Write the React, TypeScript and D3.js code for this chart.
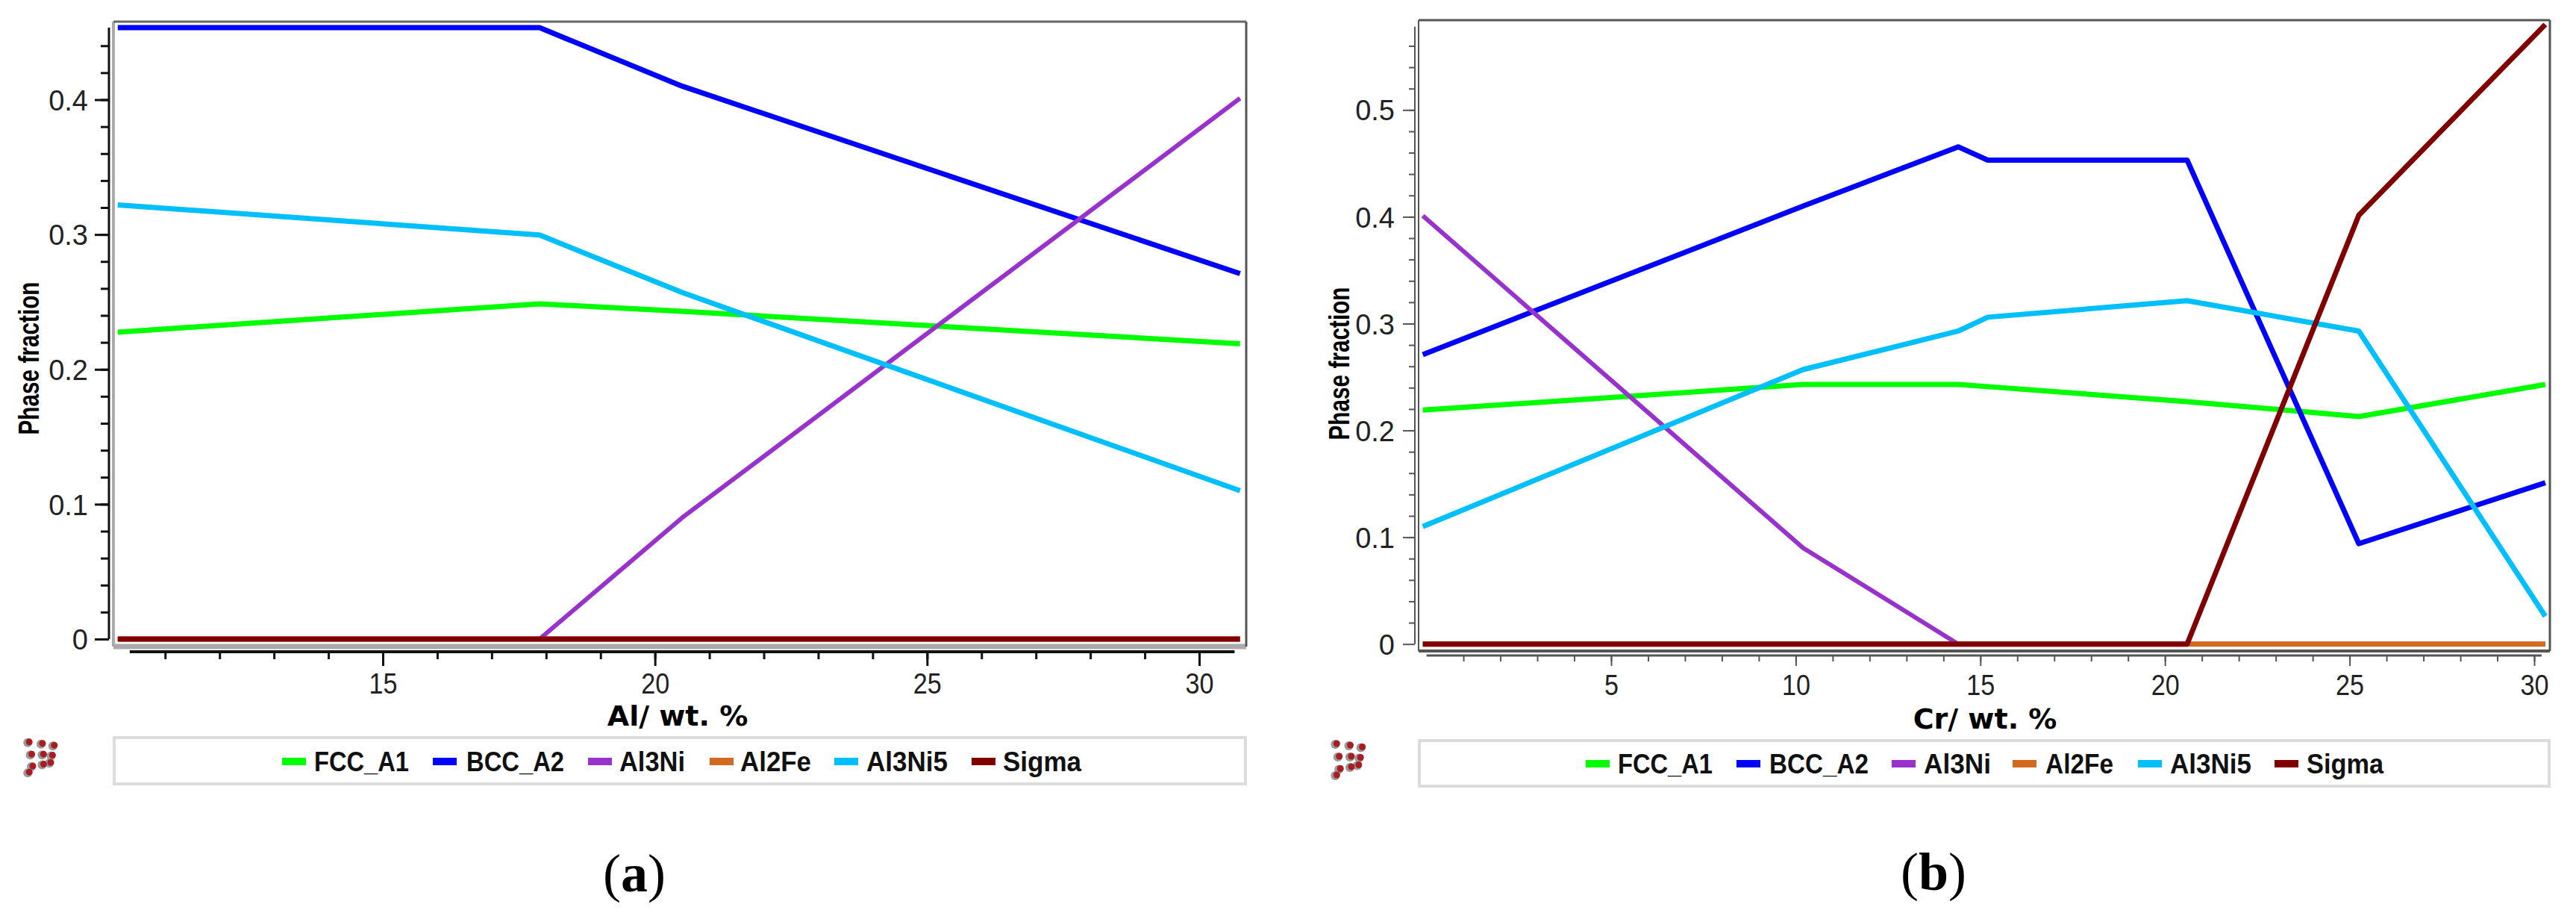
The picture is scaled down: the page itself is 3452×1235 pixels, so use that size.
import * as d3 from "d3";
import { useEffect, useRef } from "react";

const phaseNames = ["FCC_A1", "BCC_A2", "Al3Ni", "Al2Fe", "Al3Ni5", "Sigma"];
const phaseColors = ["#00ff00", "#0000ff", "#9932cc", "#d2691e", "#00bfff", "#800000"];
const phaseWidths = [7, 7, 6, 7, 7, 7];

// panel (a): Al content
const alValues = [10.13, 17.88, 20.5, 30.75];
const alFcc = [0.2276, 0.2486, 0.243, 0.219];
const alBcc = [0.4534, 0.4534, 0.41, 0.271];
const alAl3Ni = [0, 0, 0.09, 0.401];
const alAl2Fe = [0, 0, 0, 0];
const alAl3Ni5 = [0.322, 0.2996, 0.257, 0.11];
const alSigma = [0, 0, 0, 0];

// panel (b): Cr content
const crValues = [-0.1, 10.2, 14.4, 15.2, 20.6, 25.25, 30.3];
const crFcc = [0.219, 0.243, 0.243, 0.241, 0.227, 0.213, 0.243];
const crBcc = [0.271, 0.41, 0.4655, 0.453, 0.453, 0.094, 0.151];
const crAl3Ni = [0.401, 0.09, 0, 0, 0, 0, 0];
const crAl2Fe = [0, 0, 0, 0, 0, 0, 0];
const crAl3Ni5 = [0.11, 0.257, 0.293, 0.306, 0.3215, 0.293, 0.026];
const crSigma = [0, 0, 0, 0, 0, 0.4015, 0.58];

const alXTicks = [15, 20, 25, 30];
const alYTicks = [0, 0.1, 0.2, 0.3, 0.4];
const alXMinor = d3.range(11, 31);
const alYMinor = d3.range(1, 23).map((d) => d * 0.02);

const crXTicks = [5, 10, 15, 20, 25, 30];
const crYTicks = [0, 0.1, 0.2, 0.3, 0.4, 0.5];
const crXMinor = d3.range(1, 31);
const crYMinor = d3.range(1, 29).map((d) => d * 0.02);

const iconDots = [
  [0.15, 0.08], [0.52, 0.12], [0.85, 0.17],
  [0.22, 0.42], [0.55, 0.42], [0.8, 0.45],
  [0.25, 0.75], [0.55, 0.7], [0.75, 0.65],
  [0.15, 0.92],
];

const FONT = "'Liberation Sans', sans-serif";

const panels = [
  {
    xs: alValues,
    series: [alFcc, alBcc, alAl3Ni, alAl2Fe, alAl3Ni5, alSigma],
    xTicks: alXTicks, yTicks: alYTicks, xMinor: alXMinor, yMinor: alYMinor,
    xDomain: [15, 30], xRange: [513, 1607],
    yDomain: [0, 0.4], yRange: [856, 133.5],
    frame: { left: 152, right: 1670, top: 29, bottom: 866 },
    axisX: 146, axisY: 873, axisTop: 0.4534, axisXFrom: 10.35, axisXTo: 30.65,
    axisColor: "#111", axisWidth: 3,
    frameColors: { top: "#666", left: "#aaa", bottom: "#aaa", right: "#555" },
    frameWidths: { top: 3, left: 4, bottom: 7, right: 3 },
    xLabel: "Al/ wt. %", xLabelX: 908, xLabelY: 958, xTickY: 915,
    yLabelX: 38, yLabelY: 480, yTickX: 118,
    xTickLens: [10, 19], yTickLens: [11, 19],
    legendBox: [153, 988, 1669, 1050],
    legendY: 1020,
    swatches: [378, 580, 788, 951, 1118, 1302],
    labelStarts: [421, 625, 830, 992, 1161, 1344],
    labelLens: [127, 131, 88, 95, 109, 105],
    icon: [32, 990, 48, 48],
    caption: "a", captionX: 850, captionY: 1172,
  },
  {
    xs: crValues,
    series: [crFcc, crBcc, crAl3Ni, crAl2Fe, crAl3Ni5, crSigma],
    xTicks: crXTicks, yTicks: crYTicks, xMinor: crXMinor, yMinor: crYMinor,
    xDomain: [5, 30], xRange: [2159, 3396],
    yDomain: [0, 0.5], yRange: [862.7, 147.3],
    frame: { left: 1901, right: 3417, top: 27, bottom: 872 },
    axisX: 1896, axisY: 878, axisTop: 0.578, axisXFrom: 0, axisXTo: 30.2,
    axisColor: "#555", axisWidth: 2,
    frameColors: { top: "#555", left: "#555", bottom: "#555", right: "#555" },
    frameWidths: { top: 3, left: 2, bottom: 4, right: 3 },
    xLabel: "Cr/ wt. %", xLabelX: 2660, xLabelY: 962, xTickY: 917,
    yLabelX: 1794, yLabelY: 487, yTickX: 1869,
    xTickLens: [8, 14], yTickLens: [8, 16],
    legendBox: [1902, 992, 3416, 1053],
    legendY: 1023,
    swatches: [2125, 2327, 2535, 2697, 2865, 3048],
    labelStarts: [2168, 2371, 2578, 2741, 2908, 3091],
    labelLens: [127, 133, 90, 91, 109, 103],
    icon: [1784, 992, 49, 50],
    caption: "b", captionX: 2591, captionY: 1170,
  },
];

function drawPanel(svg, p) {
  const g = svg.append("g");
  const x = d3.scaleLinear().domain(p.xDomain).range(p.xRange);
  const y = d3.scaleLinear().domain(p.yDomain).range(p.yRange);

  // frame
  const f = p.frame;
  const edge = (x1, y1, x2, y2, side) =>
    g.append("line")
      .attr("x1", x1).attr("y1", y1).attr("x2", x2).attr("y2", y2)
      .attr("stroke", p.frameColors[side])
      .attr("stroke-width", p.frameWidths[side]);
  edge(f.left, f.top, f.left, f.bottom, "left");
  edge(f.left, f.bottom, f.right, f.bottom, "bottom");
  edge(f.right, f.top, f.right, f.bottom, "right");
  edge(f.left, f.top, f.right, f.top, "top");

  // lines
  const line = d3.line().x((d) => x(d[0])).y((d) => y(d[1]));
  p.series.forEach((values, i) => {
    g.append("path")
      .attr("d", line(values.map((v, k) => [p.xs[k], v])))
      .attr("fill", "none")
      .attr("stroke", phaseColors[i])
      .attr("stroke-width", phaseWidths[i])
      .attr("stroke-linejoin", "round");
  });

  // axes
  const styleAxis = (sel) => {
    sel.select(".domain").remove();
    sel.selectAll("line").attr("stroke", p.axisColor).attr("stroke-width", p.axisWidth);
    sel.selectAll("text").attr("font-family", FONT).attr("font-size", 38).attr("fill", "#222");
  };

  const xAxisG = g.append("g").attr("transform", `translate(0,${p.axisY})`);
  xAxisG.append("g").call(d3.axisBottom(x).tickValues(p.xMinor).tickSize(p.xTickLens[0]).tickFormat("")).call(styleAxis);
  xAxisG.append("g")
    .call(d3.axisBottom(x).tickValues(p.xTicks).tickSize(p.xTickLens[1]).tickFormat(d3.format("d")))
    .call(styleAxis)
    .selectAll("text")
    .attr("y", p.xTickY - p.axisY)
    .attr("dy", "0.36em")
    .attr("textLength", (d) => (d >= 10 ? 38 : 19))
    .attr("lengthAdjust", "spacingAndGlyphs");
  xAxisG.append("line")
    .attr("x1", x(p.axisXFrom)).attr("x2", x(p.axisXTo))
    .attr("stroke", p.axisColor).attr("stroke-width", p.axisWidth + 1);

  const yAxisG = g.append("g").attr("transform", `translate(${p.axisX},0)`);
  yAxisG.append("g").call(d3.axisLeft(y).tickValues(p.yMinor).tickSize(p.yTickLens[0]).tickFormat("")).call(styleAxis);
  yAxisG.append("g")
    .call(d3.axisLeft(y).tickValues(p.yTicks).tickSize(p.yTickLens[1]).tickFormat(d3.format("~g")))
    .call(styleAxis)
    .selectAll("text")
    .attr("x", p.yTickX - p.axisX)
    .attr("dy", "0.36em");
  yAxisG.append("line")
    .attr("y1", y(p.axisTop)).attr("y2", y(0))
    .attr("stroke", p.axisColor).attr("stroke-width", p.axisWidth);

  // axis titles
  g.append("text")
    .attr("x", p.xLabelX).attr("y", p.xLabelY).attr("dy", "0.36em")
    .attr("text-anchor", "middle")
    .attr("font-family", "'DejaVu Sans', sans-serif").attr("font-size", 38).attr("font-weight", "bold")
    .text(p.xLabel);
  g.append("text")
    .attr("transform", `translate(${p.yLabelX},${p.yLabelY}) rotate(-90)`)
    .attr("dy", "0.36em")
    .attr("text-anchor", "middle")
    .attr("font-family", FONT).attr("font-size", 38).attr("font-weight", "bold")
    .attr("textLength", 205).attr("lengthAdjust", "spacingAndGlyphs")
    .text("Phase fraction");

  // legend
  const [bx0, by0, bx1, by1] = p.legendBox;
  g.append("rect")
    .attr("x", bx0).attr("y", by0).attr("width", bx1 - bx0).attr("height", by1 - by0)
    .attr("fill", "#fff").attr("stroke", "#dcdcdc").attr("stroke-width", 4);
  phaseNames.forEach((name, i) => {
    g.append("rect")
      .attr("x", p.swatches[i]).attr("y", p.legendY - 5)
      .attr("width", 32).attr("height", 10)
      .attr("fill", phaseColors[i]);
    g.append("text")
      .attr("x", p.labelStarts[i]).attr("y", p.legendY).attr("dy", "0.36em")
      .attr("font-family", FONT).attr("font-size", 37).attr("font-weight", "bold")
      .attr("fill", "#111")
      .attr("textLength", p.labelLens[i]).attr("lengthAdjust", "spacingAndGlyphs")
      .text(name);
  });

  // application icon
  const [ix, iy, iw, ih] = p.icon;
  iconDots.forEach(([u, v]) => {
    g.append("circle").attr("cx", ix + u * iw - 2).attr("cy", iy + v * ih + 1).attr("r", 6).attr("fill", "#999");
  });
  iconDots.forEach(([u, v]) => {
    g.append("circle").attr("cx", ix + u * iw).attr("cy", iy + v * ih).attr("r", 4.5).attr("fill", "#a81c22");
  });

  // caption
  const cap = g.append("text")
    .attr("x", p.captionX).attr("y", p.captionY).attr("dy", "0.3em")
    .attr("text-anchor", "middle")
    .attr("font-family", "'Liberation Serif', serif").attr("font-size", 72);
  cap.append("tspan").text("(");
  cap.append("tspan").attr("font-weight", "bold").text(p.caption);
  cap.append("tspan").text(")");
}

export default function App() {
  const ref = useRef(null);

  useEffect(() => {
    const svg = d3.select(ref.current);
    svg.selectAll("*").remove();
    panels.forEach((p) => drawPanel(svg, p));
  }, []);

  return (
    <svg
      ref={ref}
      width={3452}
      height={1235}
      style={{ position: "absolute", left: 0, top: 0, background: "#fff" }}
    />
  );
}
